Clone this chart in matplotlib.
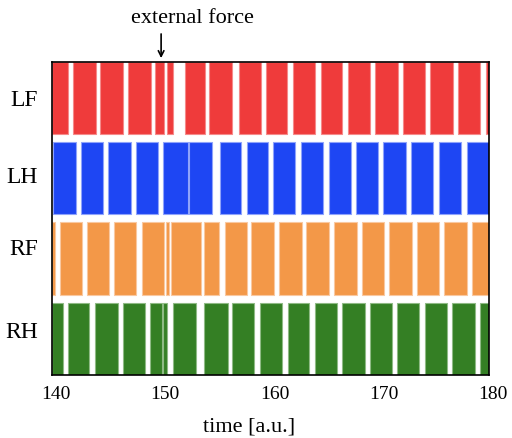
import matplotlib
matplotlib.use("Agg")
import matplotlib.pyplot as plt
import matplotlib.transforms as mtransforms

plt.rcParams['font.family'] = ['Liberation Serif', 'DejaVu Serif']

legs = ['LF', 'LH', 'RF', 'RH']
colors = ['#ef3b3b', '#1e46f3', '#f39848', '#347f24']
edges = ['#f58a8a', '#8fa3fb', '#f9c8a0', '#8fba85']

# stance phases (start, end) for each leg
lf_on = [140.0, 141.98, 144.44, 147.0, 149.47, 150.54, 152.18, 154.35, 157.09,
         159.56, 162.06, 164.62, 167.11, 169.55, 172.14, 174.61, 177.17, 179.67]
lf_off = [141.46, 144.02, 146.52, 149.05, 150.24, 151.06, 154.01, 156.51, 159.13,
          161.54, 164.07, 166.56, 169.09, 171.63, 174.12, 176.71, 179.15, 180.0]

lh_on = [140.15, 142.71, 145.17, 147.73, 150.17, 152.55, 155.41, 157.82,
         160.26, 162.82, 165.35, 167.84, 170.31, 172.87, 175.37, 177.93]
lh_off = [142.22, 144.72, 147.25, 149.74, 152.46, 154.65, 157.27, 159.8,
          162.27, 164.83, 167.36, 169.85, 172.38, 174.88, 177.41, 179.94]

rf_on = [140.0, 140.73, 143.2, 145.72, 148.22, 150.45, 150.88, 153.89, 155.84,
         158.22, 160.81, 163.27, 165.83, 168.34, 170.86, 173.36, 175.86, 178.42]
rf_off = [140.3, 142.74, 145.27, 147.73, 150.26, 150.72, 153.65, 155.29, 157.82,
          160.32, 162.88, 165.35, 167.88, 170.37, 172.91, 175.43, 177.93, 180.0]

rh_on = [140.0, 141.49, 143.96, 146.52, 149.01, 150.14, 151.06, 153.95, 156.48,
         159.04, 161.57, 164.07, 166.56, 169.07, 171.59, 174.15, 176.62, 179.18]
rh_off = [141.0, 143.44, 146.03, 148.53, 150.08, 150.54, 153.22, 156.09, 158.52,
          161.08, 163.55, 166.11, 168.61, 171.1, 173.6, 176.13, 178.69, 180.0]

starts = [lf_on, lh_on, rf_on, rh_on]
ends = [lf_off, lh_off, rf_off, rh_off]

fig = plt.figure(figsize=(5.12, 4.38), dpi=100)
ax = fig.add_axes([0.101, 0.1438, 0.8547, 0.7153])

for i in range(4):
    y = 3 - i
    for s, e in zip(starts[i], ends[i]):
        ax.barh(y, e - s, left=s, height=0.9, color=colors[i],
                edgecolor=edges[i], linewidth=0.8)

ax.set_xlim(140, 180)
ax.set_ylim(-0.45, 3.45)
ax.set_xticks([140, 150, 160, 170, 180])
# labels sit slightly above the row centres in the original
ax.set_yticks([3.0, 2.04, 1.14, 0.11])
ax.set_yticklabels(legs)
ax.tick_params(axis='x', length=0, labelsize=14, pad=8)
ax.tick_params(axis='y', length=0, labelsize=17, pad=10)
shift = mtransforms.ScaledTranslation(4 / 100, 0, fig.dpi_scale_trans)
for lab in ax.get_xticklabels():
    lab.set_transform(lab.get_transform() + shift)
for sp in ax.spines.values():
    sp.set_linewidth(1.2)
    sp.set_zorder(5)

ax.set_xlabel('time [a.u.]', fontsize=16)
ax.xaxis.set_label_coords(0.45, -0.135)

ax.annotate('', xy=(150, 3.46), xytext=(150, 3.83),
            arrowprops=dict(arrowstyle='->', color='black', lw=1.2),
            annotation_clip=False)
ax.text(152.9, 3.99, 'external force', fontsize=16, ha='center', va='center')

fig.savefig('out.png', dpi=100)
